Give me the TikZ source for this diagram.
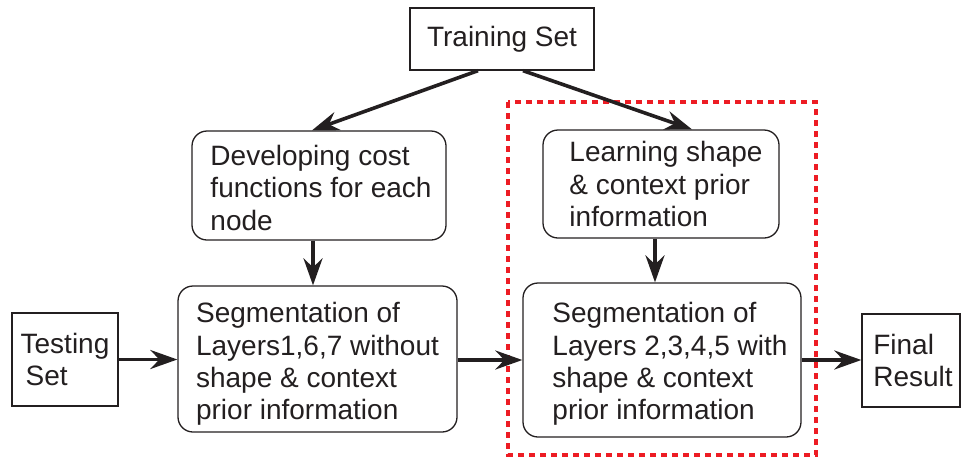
\documentclass[tikz,border=0pt]{standalone}
\usepackage{fontspec}
\setmainfont{Liberation Sans}
\usetikzlibrary{arrows.meta}
\definecolor{dotred}{RGB}{237,28,36}
\definecolor{ink}{RGB}{35,31,32}
\begin{document}
\begin{tikzpicture}[x=1pt,y=-1pt,
  txt/.style={font=\fontsize{28}{32.5}\selectfont, text=ink, align=left, inner sep=0pt},
  sqbox/.style={txt, draw=ink, line width=1.3pt},
  rbox/.style={txt, draw=ink, line width=1.3pt, rounded corners=15pt},
  flow/.style={draw=ink, line width=3.6pt, -{Stealth[length=27pt,width=19pt,inset=9pt]}},
  redbox/.style={draw=dotred, line width=4pt, dash pattern=on 6pt off 5pt}]
\useasboundingbox (0,0) rectangle (961,459);
\node[sqbox, align=center, minimum width=184pt, minimum height=62pt] (train) at (502,39) {Training Set};
\node[rbox, minimum width=254pt, minimum height=109pt,
  label={[txt, xshift=2pt, yshift=-2pt]center:{Developing cost\\functions for each\\node}}] (dev) at (319,185.5) {};
\node[rbox, minimum width=236pt, minimum height=108pt,
  label={[txt, xshift=5pt]center:{Learning shape\\\& context prior\\information}}] (learn) at (661,184) {};
\node[rbox, minimum width=279pt, minimum height=146pt,
  label={[txt, yshift=-5pt]center:{Segmentation of\\Layers1,6,7 without\\shape \& context\\prior information}}] (seg1) at (317.5,359) {};
\node[rbox, minimum width=278pt, minimum height=154pt,
  label={[txt, xshift=8pt, yshift=-4pt]center:{Segmentation of\\Layers 2,3,4,5 with\\shape \& context\\prior information}}] (seg2) at (662,360) {};
\node[sqbox, minimum width=106pt, minimum height=93pt] (test) at (65,359.5) {Testing\\\hspace{5pt}Set};
\node[sqbox, minimum width=98pt, minimum height=93pt,
  label={[txt, xshift=2pt]center:{Final\\Result}}] (final) at (911,360.5) {};
\coordinate (rtl) at (508,102);
\coordinate (rbr) at (816,455);
\draw[redbox] (rtl) rectangle (rbr);
\draw[flow] ([xshift=-24pt]train.south) -- ([xshift=-7pt]dev.north);
\draw[flow] ([xshift=21pt]train.south) -- ([xshift=31pt]learn.north);
\draw[flow] ([xshift=-6pt]dev.south) -- ([xshift=-6pt]dev.south |- seg1.north);
\draw[flow] ([xshift=-6pt]learn.south) -- ([xshift=-6pt]learn.south |- seg2.north);
\draw[flow] (test.east) -- (test.east -| seg1.west);
\draw[flow] (seg1.east |- seg2.west) -- (seg2.west);
\draw[flow] (seg2.east) -- (seg2.east -| final.west);
\end{tikzpicture}
\end{document}
